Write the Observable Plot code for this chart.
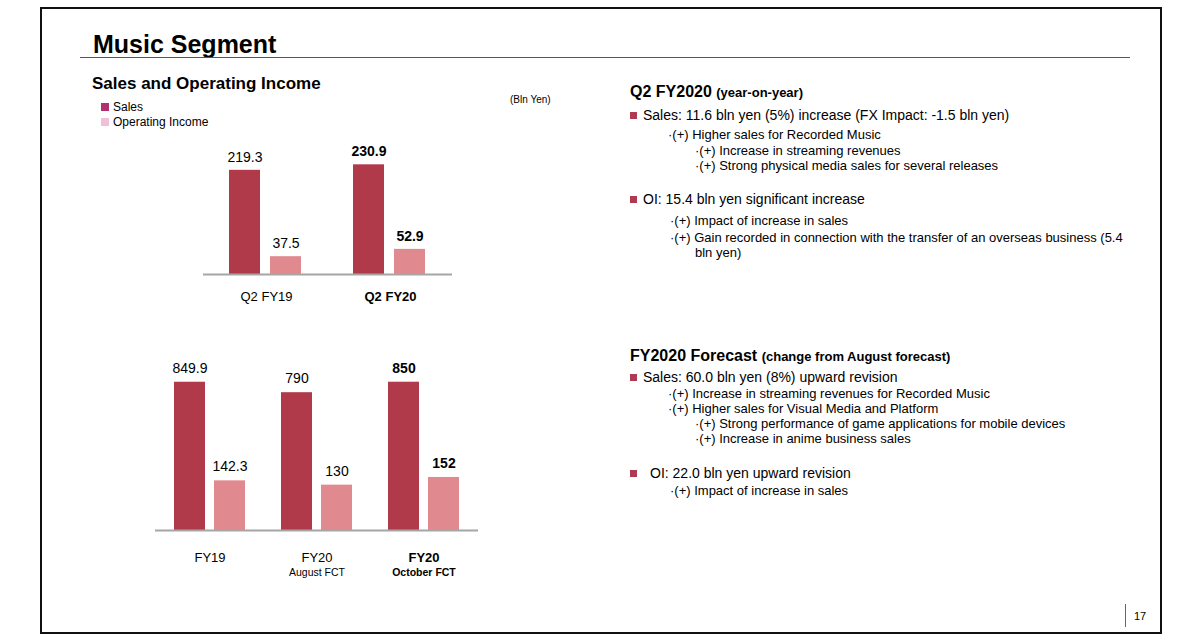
<!DOCTYPE html>
<html>
<head>
<meta charset="utf-8">
<script src="https://cdn.jsdelivr.net/npm/d3@7"></script>
<script src="https://cdn.jsdelivr.net/npm/@observablehq/plot@0.6"></script>
<style>
  html, body { margin: 0; padding: 0; background: #fff; }
  body { width: 1200px; height: 640px; position: relative; overflow: hidden;
         font-family: "Liberation Sans", Arial, sans-serif; color: #000; }
  .abs { position: absolute; white-space: nowrap; }
  .frame { position: absolute; left: 40px; top: 7px; width: 1118px; height: 623px;
           border: 2px solid #111; }
  .rule { position: absolute; left: 80px; top: 57px; width: 1050px; height: 0;
          border-top: 1.5px solid #555; }
  .sq { position: absolute; width: 8px; height: 8px; }
  .bul { position: absolute; width: 7px; height: 7px; background: #b03a50; }
  .t13 { font-size: 13px; line-height: 16px; }
  .t14 { font-size: 14px; line-height: 16px; }
  svg.chart { position: absolute; overflow: visible; }
</style>
</head>
<body>
<div class="frame"></div>
<div class="abs" style="left:93px;top:29px;font-size:25px;font-weight:bold;line-height:30px;">Music Segment</div>
<div class="rule"></div>
<div class="abs" style="left:92px;top:74px;font-size:17px;font-weight:bold;line-height:20px;">Sales and Operating Income</div>
<div class="sq" style="left:101px;top:103px;background:#b03070;"></div>
<div class="abs" style="left:113px;top:99px;font-size:12px;line-height:16px;">Sales</div>
<div class="sq" style="left:101px;top:118px;background:#f0c0d8;"></div>
<div class="abs" style="left:113px;top:114px;font-size:12px;line-height:16px;">Operating Income</div>
<div class="abs" style="left:510px;top:94px;font-size:10px;line-height:12px;">(Bln Yen)</div>

<!-- Right text -->
<div class="abs" style="left:630px;top:82px;font-size:16px;font-weight:bold;line-height:20px;">Q2 FY2020 <span style="font-size:13px;">(year-on-year)</span></div>
<div class="bul" style="left:630px;top:112px;"></div>
<div class="abs t14" style="left:643px;top:107px;">Sales: 11.6 bln yen (5%) increase (FX Impact: -1.5 bln yen)</div>
<div class="abs t13" style="left:668px;top:127px;">·(+) Higher sales for Recorded Music</div>
<div class="abs t13" style="left:695px;top:143px;">·(+) Increase in streaming revenues</div>
<div class="abs t13" style="left:695px;top:158px;">·(+) Strong physical media sales for several releases</div>
<div class="bul" style="left:630px;top:196px;"></div>
<div class="abs t14" style="left:643px;top:191px;">OI: 15.4 bln yen significant increase</div>
<div class="abs t13" style="left:670px;top:213px;">·(+) Impact of increase in sales</div>
<div class="abs t13" style="left:670px;top:230px;">·(+) Gain recorded in connection with the transfer of an overseas business (5.4</div>
<div class="abs t13" style="left:695px;top:245px;">bln yen)</div>

<div class="abs" style="left:630px;top:346px;font-size:16px;font-weight:bold;line-height:20px;">FY2020 Forecast <span style="font-size:13px;">(change from August forecast)</span></div>
<div class="bul" style="left:630px;top:374px;"></div>
<div class="abs t14" style="left:643px;top:369px;">Sales: 60.0 bln yen (8%) upward revision</div>
<div class="abs t13" style="left:668px;top:386px;">·(+) Increase in streaming revenues for Recorded Music</div>
<div class="abs t13" style="left:668px;top:401px;">·(+) Higher sales for Visual Media and Platform</div>
<div class="abs t13" style="left:695px;top:416px;">·(+) Strong performance of game applications for mobile devices</div>
<div class="abs t13" style="left:695px;top:431px;">·(+) Increase in anime business sales</div>
<div class="bul" style="left:630px;top:470px;"></div>
<div class="abs t14" style="left:650px;top:465px;">OI: 22.0 bln yen upward revision</div>
<div class="abs t13" style="left:670px;top:483px;">·(+) Impact of increase in sales</div>

<div class="abs" style="left:1125px;top:604px;width:0;height:23px;border-left:1.5px solid #666;"></div>
<div class="abs" style="left:1134px;top:609px;font-size:11px;line-height:14px;">17</div>

<script>
// ---- Data ----
const q2Categories = ["Q2 FY19", "Q2 FY20"];
const q2Sales = [219.3, 230.9];
const q2OI = [37.5, 52.9];

const fyCategories = ["FY19", "FY20 Aug", "FY20 Oct"];
const fyLabels = ["FY19", "FY20", "FY20"];
const fySubLabels = ["", "August FCT", "October FCT"];
const fySales = [849.9, 790, 850];
const fyOI = [142.3, 130, 152];

const salesColor = "#b03a4a";
const oiColor = "#e08a90";
const axisColor = "#a6a6a6";

// ---- Chart 1: Q2 ----
const q2 = q2Categories.map((c, i) => ({cat: c, sales: q2Sales[i], oi: q2OI[i], bold: i === q2Categories.length - 1}));
const chart1 = Plot.plot({
  width: 320, height: 170,
  marginLeft: 43, marginRight: 28, marginTop: 20, marginBottom: 36,
  x: {domain: q2Categories, padding: 0, axis: null},
  y: {domain: [0, 240], axis: null},
  style: {background: "transparent", fontFamily: "Liberation Sans, Arial, sans-serif", overflow: "visible"},
  marks: [
    Plot.barY(q2, {x: "cat", y: "sales", fill: salesColor, insetLeft: 25, insetRight: 68}),
    Plot.barY(q2, {x: "cat", y: "oi", fill: oiColor, insetLeft: 66, insetRight: 27}),
    Plot.ruleY([0], {stroke: axisColor, strokeWidth: 2}),
    Plot.text(q2.filter(d => !d.bold), {x: "cat", y: "sales", text: d => String(d.sales), dx: -21.5, dy: -13, fontSize: 14, fill: "#000"}),
    Plot.text(q2.filter(d => !d.bold), {x: "cat", y: "oi", text: d => String(d.oi), dx: 19.5, dy: -13, fontSize: 14, fill: "#000"}),
    Plot.text(q2.filter(d => d.bold), {x: "cat", y: "sales", text: d => String(d.sales), dx: -21.5, dy: -13, fontSize: 14, fontWeight: "bold", fill: "#000"}),
    Plot.text(q2.filter(d => d.bold), {x: "cat", y: "oi", text: d => String(d.oi), dx: 19.5, dy: -13, fontSize: 14, fontWeight: "bold", fill: "#000"}),
    Plot.text(q2.filter(d => !d.bold), {x: "cat", y: 0, text: "cat", dy: 22, fontSize: 13, fill: "#000"}),
    Plot.text(q2.filter(d => d.bold), {x: "cat", y: 0, text: "cat", dy: 22, fontSize: 13, fontWeight: "bold", fill: "#000"})
  ]
});
chart1.classList.add("chart");
chart1.style.left = "160px";
chart1.style.top = "140px";
document.body.appendChild(chart1);

// ---- Chart 2: FY (sales and OI drawn on separate y scales, as in the original) ----
const fy = fyCategories.map((c, i) => ({cat: c, label: fyLabels[i], sub: fySubLabels[i], sales: fySales[i], oi: fyOI[i], bold: i === fyCategories.length - 1}));
const common2 = {
  width: 360, height: 250,
  marginLeft: 15, marginRight: 22, marginTop: 33, marginBottom: 60,
  x: {domain: fyCategories, padding: 0, axis: null},
  style: {background: "transparent", fontFamily: "Liberation Sans, Arial, sans-serif", overflow: "visible"}
};
const chart2a = Plot.plot({
  ...common2,
  y: {domain: [0, 900], axis: null},
  marks: [
    Plot.barY(fy, {x: "cat", y: "sales", fill: salesColor, insetLeft: 18, insetRight: 58}),
    Plot.ruleY([0], {stroke: axisColor, strokeWidth: 2}),
    Plot.text(fy.filter(d => !d.bold), {x: "cat", y: "sales", text: d => String(d.sales), dx: -20, dy: -14, fontSize: 14, fill: "#000"}),
    Plot.text(fy.filter(d => d.bold), {x: "cat", y: "sales", text: d => String(d.sales), dx: -20, dy: -14, fontSize: 14, fontWeight: "bold", fill: "#000"}),
    Plot.text(fy.filter(d => !d.bold), {x: "cat", y: 0, text: "label", dy: 27, fontSize: 13, fill: "#000"}),
    Plot.text(fy.filter(d => d.bold), {x: "cat", y: 0, text: "label", dy: 27, fontSize: 13, fontWeight: "bold", fill: "#000"}),
    Plot.text(fy.filter(d => !d.bold), {x: "cat", y: 0, text: "sub", dy: 42, fontSize: 10.5, fill: "#000"}),
    Plot.text(fy.filter(d => d.bold), {x: "cat", y: 0, text: "sub", dy: 42, fontSize: 10.5, fontWeight: "bold", fill: "#000"})
  ]
});
const chart2b = Plot.plot({
  ...common2,
  y: {domain: [0, 450], axis: null},
  marks: [
    Plot.barY(fy, {x: "cat", y: "oi", fill: oiColor, insetLeft: 58, insetRight: 18}),
    Plot.text(fy.filter(d => !d.bold), {x: "cat", y: "oi", text: d => String(d.oi), dx: 20, dy: -14, fontSize: 14, fill: "#000"}),
    Plot.text(fy.filter(d => d.bold), {x: "cat", y: "oi", text: d => String(d.oi), dx: 20, dy: -14, fontSize: 14, fontWeight: "bold", fill: "#000"})
  ]
});
for (const c of [chart2a, chart2b]) {
  c.classList.add("chart");
  c.style.left = "140px";
  c.style.top = "340px";
  document.body.appendChild(c);
}
</script>
</body>
</html>
